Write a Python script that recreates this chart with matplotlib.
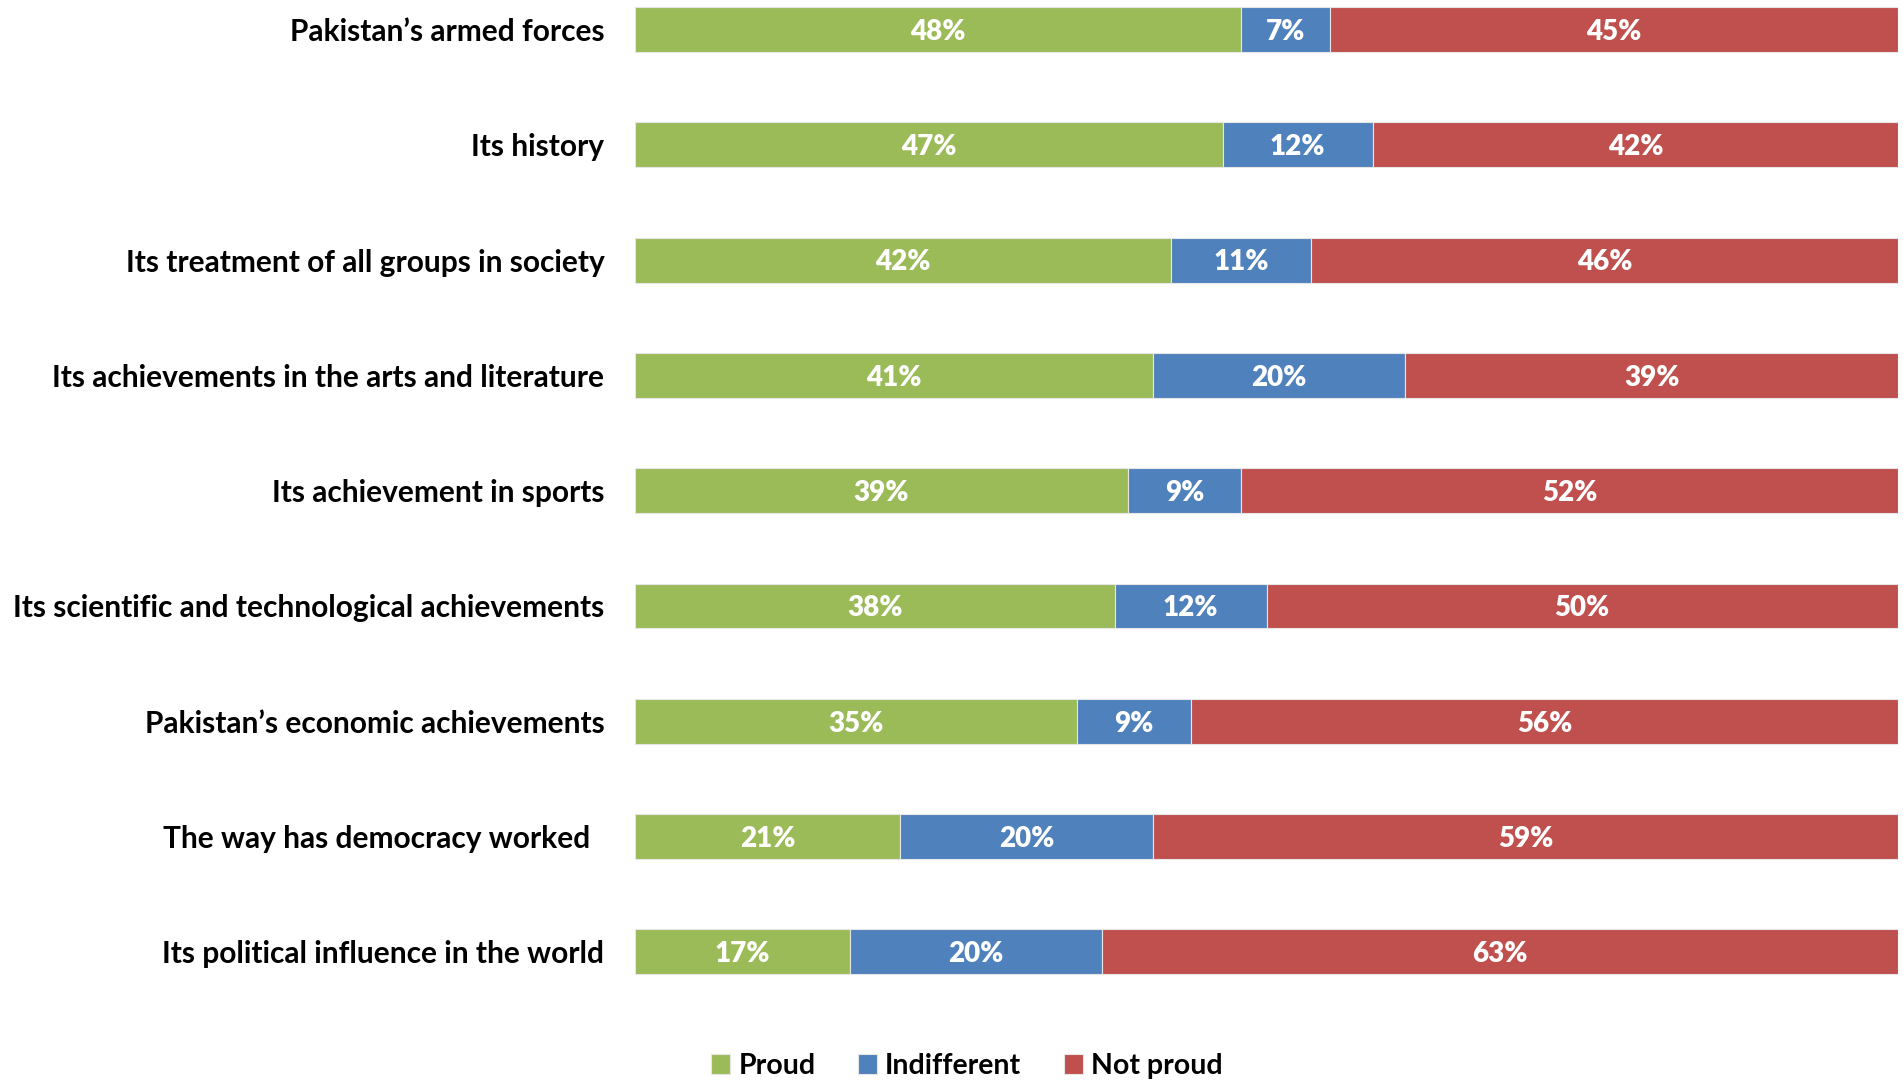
import matplotlib.pyplot as plt
import numpy as np

categories = ["Pakistan\u2019s armed forces", "Its history", "Its treatment of all groups in society",
              "Its achievements in the arts and literature", "Its achievement in sports",
              "Its scientific and technological achievements", "Pakistan\u2019s economic achievements",
              "The way has democracy worked  ", "Its political influence in the world"]
proud = [48, 47, 42, 41, 39, 38, 35, 21, 17]
indifferent = [7, 12, 11, 20, 9, 12, 9, 20, 20]
not_proud = [45, 42, 46, 39, 52, 50, 56, 59, 63]
series = [("Proud", proud, "#9BBB59"), ("Indifferent", indifferent, "#4F81BD"), ("Not proud", not_proud, "#C0504D")]

plt.rcParams['font.family'] = ['Lato', 'DejaVu Sans']
plt.rcParams['font.weight'] = 'bold'

W, H = 1903, 1081
fig = plt.figure(figsize=(W / 100, H / 100), dpi=100)
ax_top, ax_bot = 0, 1010
ax = fig.add_axes([635 / W, 1 - ax_bot / H, (1898 - 635) / W, (ax_bot - ax_top) / H])

first_c, step = 29.5, 115.3
ax.set_ylim((ax_bot - first_c) / step, (ax_top - first_c) / step)

y = np.arange(len(categories))
totals = np.array(proud) + np.array(indifferent) + np.array(not_proud)
left = np.zeros(len(categories))
for name, vals, col in series:
    w = np.array(vals) / totals * 100
    bars = ax.barh(y, w, left=left, height=0.39, color=col, edgecolor='#e6e6e6', linewidth=0.8, label=name)
    for b, v in zip(bars, vals):
        ax.text(b.get_x() + b.get_width() / 2, b.get_y() + b.get_height() / 2 + 0.02, "{}%".format(v),
                ha='center', va='center', color='white', fontsize=20, fontweight='heavy')
    left += w

ax.set_xlim(0, 100)
ax.set_yticks(y)
ax.set_yticklabels(categories, fontsize=21.5, fontweight='bold')
ax.tick_params(axis='y', length=0, pad=22)
ax.set_xticks([])
for s in ax.spines.values():
    s.set_visible(False)

fig.legend(loc='center', bbox_to_anchor=(967 / W, 1 - 1066 / H), ncol=3, frameon=False,
           fontsize=20.5, handlelength=0.65, handleheight=0.65, handletextpad=0.3, columnspacing=1.5)

fig.savefig("out.png", dpi=100)
